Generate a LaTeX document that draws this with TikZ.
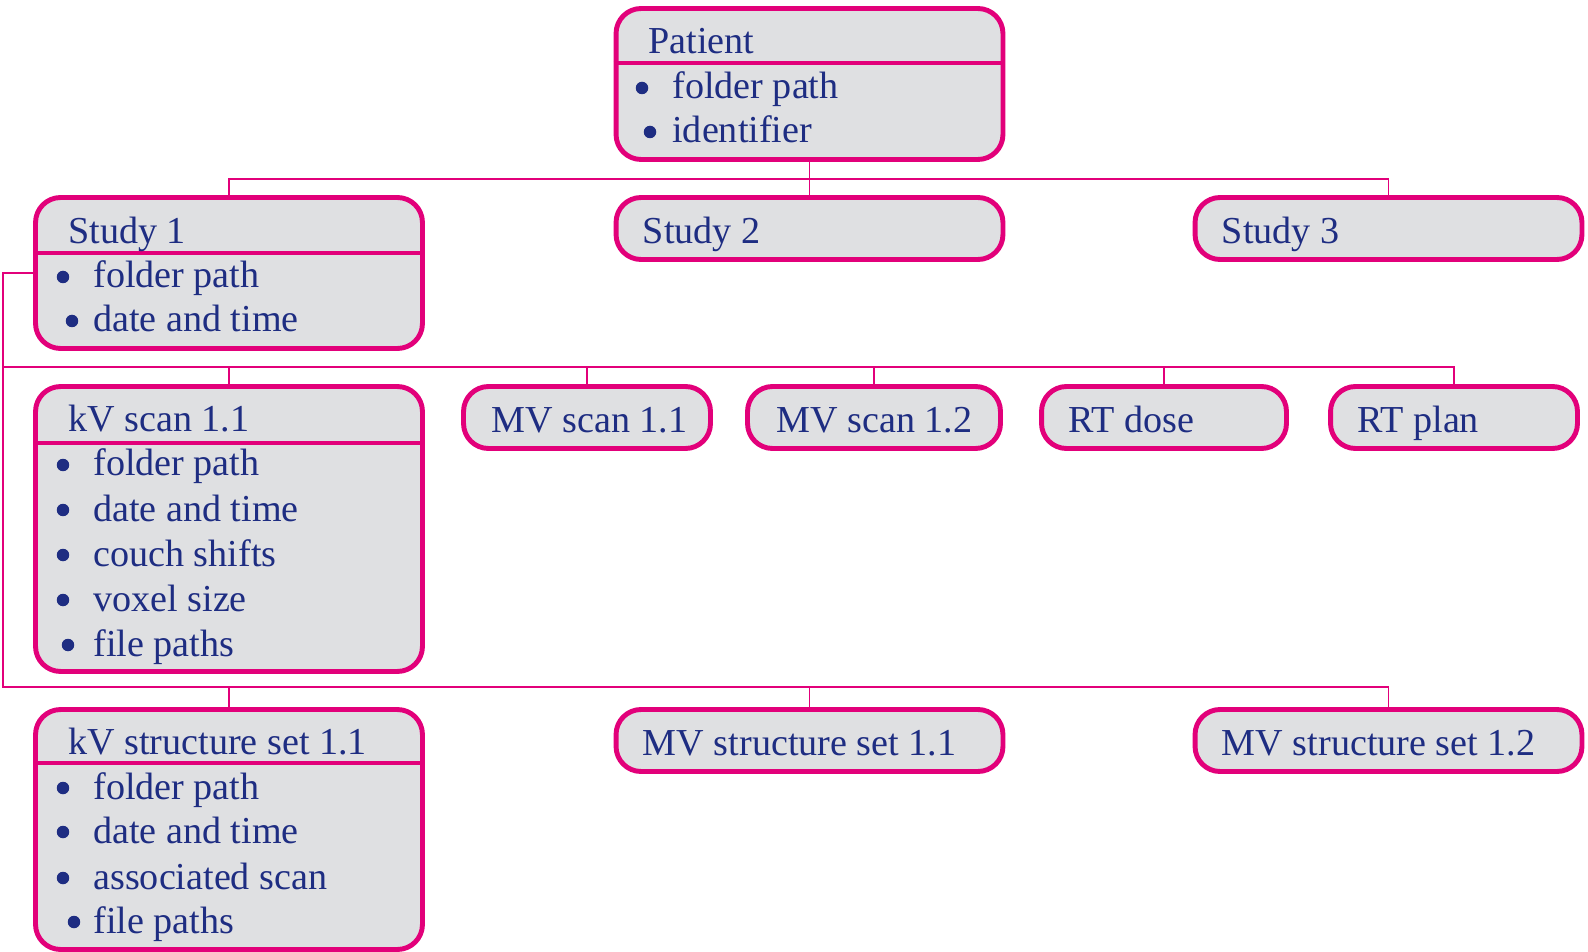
\documentclass[tikz,border=0pt]{standalone}
\usepackage{fontspec}
\setmainfont{Liberation Serif}
\usetikzlibrary{calc}

\definecolor{rtpink}{RGB}{226,0,122}
\definecolor{rtgrey}{RGB}{223,224,226}
\definecolor{rtblue}{RGB}{30,45,130}

\tikzset{
  box/.style={draw=rtpink, line width=2.8pt, fill=rtgrey, rounded corners=0.5cm,
    inner sep=0pt},
  bigbox/.style={box, minimum width=7.74cm},
  smallbox/.style={box, minimum width=4.94cm},
  lowbox/.style={minimum height=1.24cm},
  splitline/.style={draw=rtpink, line width=2.6pt},
  wire/.style={draw=rtpink, line width=1.1pt},
  headtxt/.style={text=rtblue, anchor=base west, inner sep=0pt},
  dot/.style={circle, fill=rtblue, inner sep=0pt, minimum size=0.25cm}
}

\begin{document}
\begin{tikzpicture}[x=0.02cm, y=-0.02cm, font=\fontsize{21.7}{25}\selectfont]
  \useasboundingbox (0,0) rectangle (1588,952);

  % level 0
  \node[bigbox, minimum height=3.02cm] (pat) at (809.5,84) {};
  \draw[splitline] (pat.west |- 0,63) -- (pat.east |- 0,63);
  \node[headtxt] (pat-h) at (648,54) {Patient};
  \foreach \b/\y/\t [count=\i] in {642/99/folder path, 650/143/identifier} {
    \node[dot] (pat-b\i) at (\b,\y-11) {};
    \node[headtxt] (pat-\i) at (672,\y) {\t};
  }

  % level 1
  \node[bigbox, minimum height=3.02cm] (st1) at (229,273) {};
  \draw[splitline] (st1.west |- 0,253) -- (st1.east |- 0,253);
  \node[headtxt] (st1-h) at (68,244) {Study 1};
  \foreach \b/\y/\t [count=\i] in {63/288/folder path, 72/332/date and time} {
    \node[dot] (st1-b\i) at (\b,\y-11) {};
    \node[headtxt] (st1-\i) at (93,\y) {\t};
  }
  \node[bigbox, lowbox] (st2) at (809.5,228.5) {};
  \node[headtxt] (st2-h) at ($(st2.west)+(29,15)$) {Study 2};
  \node[bigbox, lowbox] (st3) at (1388.5,228.5) {};
  \node[headtxt] (st3-h) at ($(st3.west)+(29,15)$) {Study 3};

  % level 2
  \node[bigbox, minimum height=5.70cm] (kvs) at (229,529) {};
  \draw[splitline] (kvs.west |- 0,443) -- (kvs.east |- 0,443);
  \node[headtxt] (kvs-h) at (68,432) {kV scan 1.1};
  \foreach \b/\y/\t [count=\i] in {63/476/folder path, 63/521/date and time,
      63/566/couch shifts, 63/611/voxel size, 68/656/file paths} {
    \node[dot] (kvs-b\i) at (\b,\y-11) {};
    \node[headtxt] (kvs-\i) at (93,\y) {\t};
  }
  \node[smallbox, lowbox] (mvs1) at (587,417.5) {};
  \node[headtxt] (mvs1-h) at ($(mvs1.west)+(30,15)$) {MV scan 1.1};
  \node[smallbox, lowbox, minimum width=5.06cm] (mvs2) at (874,417.5) {};
  \node[headtxt] (mvs2-h) at ($(mvs2.west)+(31,15)$) {MV scan 1.2};
  \node[smallbox, lowbox, minimum width=4.9cm] (dose) at (1164,417.5) {};
  \node[headtxt] (dose-h) at ($(dose.west)+(29,15)$) {RT dose};
  \node[smallbox, lowbox] (plan) at (1454,417.5) {};
  \node[headtxt] (plan-h) at ($(plan.west)+(29,15)$) {RT plan};

  % level 3
  \node[bigbox, minimum height=4.80cm] (kvss) at (229,829.5) {};
  \draw[splitline] (kvss.west |- 0,763) -- (kvss.east |- 0,763);
  \node[headtxt] (kvss-h) at (68,754) {kV structure set 1.1};
  \foreach \b/\y/\t [count=\i] in {63/799/folder path, 63/843/date and time,
      63/889/associated scan, 74/933/file paths} {
    \node[dot] (kvss-b\i) at (\b,\y-11) {};
    \node[headtxt] (kvss-\i) at (93,\y) {\t};
  }
  \node[bigbox, lowbox] (mvss1) at (809.5,740.5) {};
  \node[headtxt] (mvss1-h) at ($(mvss1.west)+(29,15)$) {MV structure set 1.1};
  \node[bigbox, lowbox] (mvss2) at (1388.5,740.5) {};
  \node[headtxt] (mvss2-h) at ($(mvss2.west)+(29,15)$) {MV structure set 1.2};

  % connectors
  \coordinate (bus1) at (809.5,179);
  \coordinate (bus2) at (3,367);
  \coordinate (bus3) at (3,687);
  \draw[wire] (pat.south) -- (bus1);
  \draw[wire] (st1.north) |- (bus1) -| (st3.north);
  \draw[wire] (bus1) -- (st2.north);
  \draw[wire] (st1.west) -| (bus3) -| (mvss2.north);
  \draw[wire] (bus2) -| (plan.north);
  \foreach \n in {kvs,mvs1,mvs2,dose}
    \draw[wire] (\n.north) -- (\n.north |- bus2);
  \foreach \n in {kvss,mvss1}
    \draw[wire] (\n.north) -- (\n.north |- bus3);
\end{tikzpicture}
\end{document}
